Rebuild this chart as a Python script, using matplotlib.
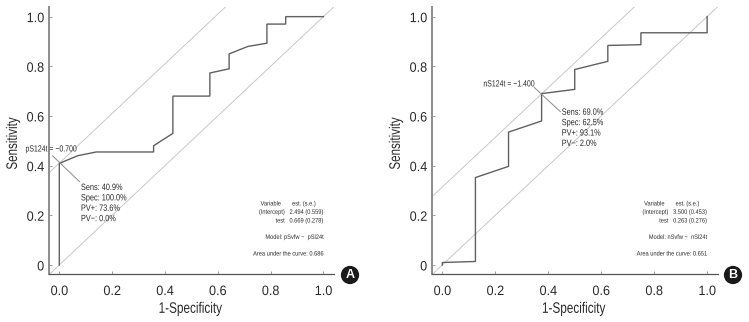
# ROC curves for the two models, panels A and B

import matplotlib
matplotlib.use("Agg")
import matplotlib.pyplot as plt
from matplotlib.patheffects import AbstractPathEffect
from matplotlib.transforms import Affine2D

plt.rcParams["font.family"] = ["Liberation Sans", "DejaVu Sans"]

# -------------------------------------------------
# Data
# -------------------------------------------------

a_fpr = [0, 0, 0.07, 0.14, 0.357, 0.357, 0.43, 0.43, 0.57, 0.57, 0.643, 0.643,
         0.714, 0.786, 0.786, 0.857, 0.857, 1.0]
a_tpr = [0, 0.409, 0.44, 0.455, 0.455, 0.48, 0.53, 0.68, 0.68, 0.773, 0.79, 0.85,
         0.88, 0.893, 0.97, 0.97, 1.0, 1.0]

b_fpr = [0, 0, 0.125, 0.125, 0.25, 0.25, 0.375, 0.375, 0.5, 0.5, 0.625, 0.625,
         0.75, 0.75, 1.0, 1.0]
b_tpr = [0, 0.01, 0.014, 0.352, 0.397, 0.535, 0.58, 0.69, 0.707, 0.787, 0.82, 0.884,
         0.887, 0.935, 0.935, 1.0]

x_ticks = [0.0, 0.2, 0.4, 0.6, 0.8, 1.0]
x_tick_labels = ["0.0", "0.2", "0.4", "0.6", "0.8", "1.0"]
y_ticks = [0.0, 0.2, 0.4, 0.6, 0.8, 1.0]
y_tick_labels = ["0", "0.2", "0.4", "0.6", "0.8", "1.0"]

a_offset = 0.41
b_offset = 0.314

a_stats = "Sens: 40.9%\nSpec: 100.0%\nPV+: 73.6%\nPV\u2212: 0.0%"
b_stats = "Sens: 69.0%\nSpec: 62.5%\nPV+: 93.1%\nPV\u2212: 2.0%"

header = "Variable       est. (s.e.)"
a_rows = ["(Intercept)   2.494 (0.559)", "test   0.669 (0.278)"]
b_rows = ["(Intercept)   3.500 (0.453)", "test   0.263 (0.276)"]
a_model = "Model: pSvfw ~  pSl24t"
b_model = "Model: nSvfw ~  nSl24t"
a_auc = "Area under the curve: 0.686"
b_auc = "Area under the curve: 0.651"

# -------------------------------------------------
# Figure
# -------------------------------------------------

W, H = 749, 322
fig = plt.figure(figsize=(W / 100, H / 100), dpi=100)

line_col = "#606060"
diag_col = "#c8c8c8"
text_col = "#2a2a2a"


class Narrow(AbstractPathEffect):
    # squeeze the glyphs sideways, the reference uses a condensed face
    def __init__(self, ratio, anchor="left"):
        super().__init__()
        self.ratio = ratio
        self.anchor = anchor

    def draw_path(self, renderer, gc, tpath, affine, rgbFace=None):
        box = tpath.get_extents()
        pivot = {"left": 0, "right": box.x1, "center": (box.x0 + box.x1) / 2}[self.anchor]
        squeeze = Affine2D().translate(-pivot, 0).scale(self.ratio, 1).translate(pivot, 0)
        renderer.draw_path(gc, tpath, squeeze + affine, rgbFace)


def small(ax, x, y, s, ha, ratio=0.89):
    ax.text(x, y, s, ha=ha, va="center", fontsize=4.6, color=text_col,
            path_effects=[Narrow(ratio, ha)])


def draw_panel(left, right, fpr, tpr, offset, rows, model, auc):
    ax = fig.add_axes([left / W, 1 - 274.3 / H, (right - left) / W, (274.3 - 6.7) / H])
    ax.set_xlim(-0.039, 1.04)
    ax.set_ylim(-0.0376, 1.04)

    ax.plot([-0.04, 1.04], [-0.04, 1.04], color=diag_col, lw=0.7)
    ax.plot([-0.04, 1.04], [-0.04 + offset, 1.04 + offset], color=diag_col, lw=0.7)
    ax.plot(fpr, tpr, color=line_col, lw=1.0, solid_joinstyle="miter")

    ax.spines["top"].set_visible(False)
    ax.spines["right"].set_visible(False)
    ax.spines["left"].set_color("#8c8c8c")
    ax.spines["left"].set_linewidth(1.4)
    ax.spines["bottom"].set_color("#555555")
    ax.spines["bottom"].set_linewidth(0.9)

    ax.set_xticks(x_ticks, x_tick_labels)
    ax.set_yticks(y_ticks, y_tick_labels)
    ax.tick_params(axis="both", direction="in", length=2.5, width=0.5, color="#777777",
                   labelsize=9.8, labelcolor=text_col)
    ax.tick_params(axis="x", pad=7)
    ax.tick_params(axis="y", pad=3.5)
    for label in ax.get_xticklabels():
        label.set_path_effects([Narrow(0.93, "center")])
    for label in ax.get_yticklabels():
        label.set_path_effects([Narrow(0.93, "right")])

    ax.set_xlabel("1-Specificity", fontsize=11, color=text_col,
                  path_effects=[Narrow(0.77, "center")])
    ax.set_ylabel("Sensitivity", fontsize=11, color=text_col,
                  path_effects=[Narrow(0.76, "center")])
    ax.xaxis.set_label_coords(0.495, -0.103)
    ax.yaxis.set_label_coords(-0.102, 0.488)

    # small table in the lower right corner
    small(ax, 0.762, 0.2456, header, "left")
    small(ax, 1.0, 0.212, rows[0], "right")
    small(ax, 1.0, 0.177, rows[1], "right")
    small(ax, 1.0, 0.111, model, "right")
    small(ax, 1.0, 0.044, auc, "right")
    return ax


ax_a = draw_panel(49, 334, a_fpr, a_tpr, a_offset, a_rows, a_model, a_auc)
ax_b = draw_panel(432, 717.7, b_fpr, b_tpr, b_offset, b_rows, b_model, b_auc)

# -------------------------------------------------
# Cut-off annotations
# -------------------------------------------------

ax_a.plot([-0.025, 0.076], [0.439, 0.336], color="#8a8a8a", lw=0.7)
ax_a.text(-0.128, 0.467, "pS124t = \u22120.700", ha="left", va="center", fontsize=6.4,
          color=text_col, path_effects=[Narrow(0.78)])
ax_a.text(0.082, 0.33, a_stats, ha="left", va="top", fontsize=6.6, color=text_col,
          linespacing=1.2, path_effects=[Narrow(0.8)])

ax_b.plot([0.347, 0.446], [0.715, 0.617], color="#8a8a8a", lw=0.7)
ax_b.text(0.155, 0.729, "nS124t = \u22121.400", ha="left", va="center", fontsize=6.4,
          color=text_col, path_effects=[Narrow(0.78)])
ax_b.text(0.451, 0.633, b_stats, ha="left", va="top", fontsize=6.6, color=text_col,
          linespacing=1.2, path_effects=[Narrow(0.8)])

# -------------------------------------------------
# Panel badges
# -------------------------------------------------

for x, letter in [(350, "A"), (733, "B")]:
    fig.text(x / W, 1 - 275 / H, letter, ha="center", va="center", fontsize=9,
             fontweight="bold", color="white",
             bbox=dict(boxstyle="circle,pad=0.25", fc="#1a1a1a", ec="none"))

fig.savefig("out.png", dpi=100)
